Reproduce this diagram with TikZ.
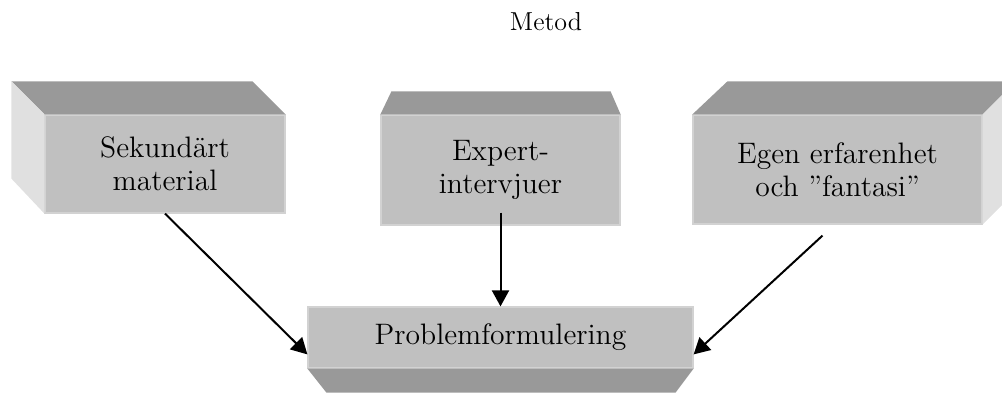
\documentclass[tikz,border=0pt]{standalone}
\usetikzlibrary{calc,arrows.meta}

\definecolor{framsida}{RGB}{192,192,192}
\definecolor{ovansida}{RGB}{153,153,153}
\definecolor{sidoyta}{RGB}{224,224,224}
\definecolor{kant}{RGB}{210,210,210}

\begin{document}
\begin{tikzpicture}[x=0.5pt,y=-0.5pt]

    \tikzset{lada/.style = {shape=rectangle,fill=framsida,draw=kant,line width=0.6pt,inner sep=0pt,align=center,font=\fontsize{14.8}{16.5}\selectfont}}
    \tikzset{topp/.style = {fill=ovansida}}
    \tikzset{sida/.style = {fill=sidoyta}}
    \tikzset{pil/.style = {-{Triangle[length=8pt,width=8.5pt]},line width=1pt}}

    \useasboundingbox (0,0) rectangle (1002,394);
    \clip (0,0) rectangle (1002,394);

    \node [font=\fontsize{13}{15}\selectfont] (rubrik) at (546,22) {Metod};

    %Sekundärt material
    \node [lada,minimum width=120pt,minimum height=49pt] (sek) at (165,164) {Sekundärt\\material};
    \fill [topp] (sek.north west) -- (sek.north east) -- ++(-33,-33)
        -- ($(sek.north west)+(-33,-33)$) -- cycle;
    \fill [sida] (sek.north west) -- ++(-33,-33)
        -- ($(sek.south west)+(-33,-35)$) -- (sek.south west) -- cycle;

    %Expertintervjuer
    \node [lada,minimum width=119.5pt,minimum height=55pt] (exp) at (500.5,170) {Expert-\\intervjuer};
    \fill [topp] (exp.north west) -- (exp.north east) -- ++(-10,-23)
        -- ($(exp.north west)+(11,-23)$) -- cycle;

    %Egen erfarenhet
    \node [lada,minimum width=144.5pt,minimum height=54.5pt] (egen) at (837.5,169.5) {Egen erfarenhet\\och ”fantasi”};
    \fill [topp] (egen.north west) -- (egen.north east) -- ++(33,-33)
        -- ($(egen.north west)+(35,-33)$) -- cycle;
    \fill [sida] (egen.north east) -- ++(33,-33)
        -- ($(egen.south east)+(33,-33)$) -- (egen.south east) -- cycle;

    %Problemformulering
    \node [lada,minimum width=192.5pt,minimum height=30.5pt] (prob) at (500.5,337.5) {Problemformulering};
    \fill [topp] (prob.south west) -- (prob.south east) -- ++(-18,24)
        -- ($(prob.south west)+(19,24)$) -- cycle;

    \draw [pil] (sek.south)
        to (prob.185);
    \draw [pil,shorten <=-6.5pt] (exp.south)
        to (prob.north);
    \draw [pil] ($(egen.south)+(-15,11)$)
        to (prob.355);

\end{tikzpicture}
\end{document}
